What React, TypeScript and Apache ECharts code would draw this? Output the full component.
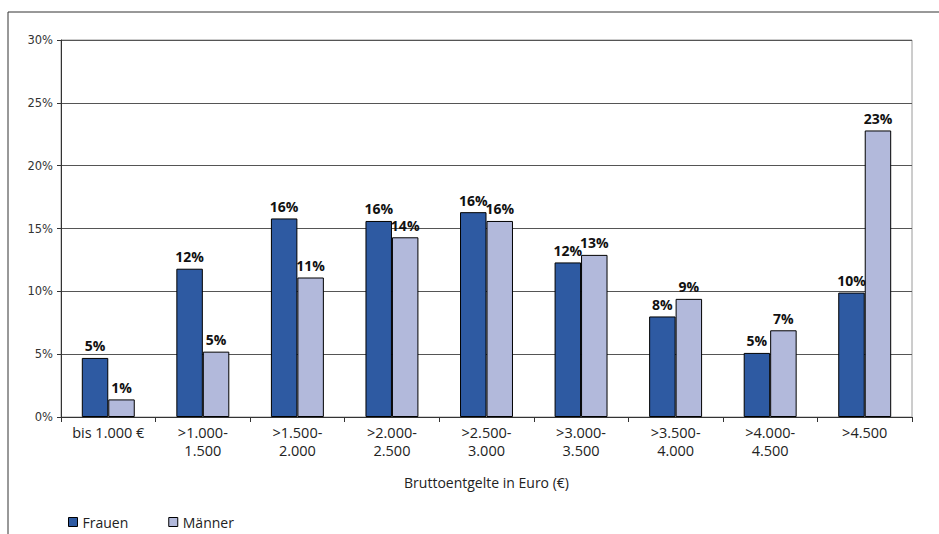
import React, { useEffect, useRef } from "react";
import * as echarts from "echarts";

const categories = [
  "bis 1.000 €",
  ">1.000-\n1.500",
  ">1.500-\n2.000",
  ">2.000-\n2.500",
  ">2.500-\n3.000",
  ">3.000-\n3.500",
  ">3.500-\n4.000",
  ">4.000-\n4.500",
  ">4.500",
];
const frauen = [4.7, 11.8, 15.8, 15.6, 16.3, 12.3, 8.0, 5.1, 9.9];
const maenner = [1.4, 5.2, 11.1, 14.3, 15.6, 12.9, 9.4, 6.9, 22.8];
const yTicks = [0, 5, 10, 15, 20, 25, 30];
const xTitle = "Bruttoentgelte in Euro (€)";
const seriesNames = ["Frauen", "Männer"];

const FONT = "'Open Sans', 'Noto Sans', sans-serif";

export default function App() {
  const ref = useRef<HTMLDivElement>(null);
  useEffect(() => {
    if (!ref.current) return;
    const chart = echarts.init(ref.current, undefined, { renderer: "svg" });
    const label = {
      show: true,
      position: "top" as const,
      distance: 5,
      formatter: (p: any) => Math.round(p.value) + "%",
      fontFamily: FONT,
      fontWeight: "bold" as const,
      fontSize: 14,
      color: "#111",
    };
    chart.setOption({
      animation: false,
      backgroundColor: "#fff",
      grid: {
        left: 61,
        right: 27,
        top: 40,
        bottom: 117,
        show: true,
        borderColor: "#9a9a9a",
        borderWidth: 1,
        backgroundColor: "transparent",
      },
      legend: {
        left: 63,
        top: 510,
        itemWidth: 9,
        itemHeight: 9,
        itemGap: 40,
        icon: "rect",
        textStyle: { fontFamily: FONT, fontSize: 14, color: "#222" },
        itemStyle: { borderColor: "#000", borderWidth: 1 },
        data: seriesNames,
      },
      xAxis: {
        type: "category",
        data: categories,
        name: xTitle,
        nameLocation: "middle",
        nameGap: 58,
        nameTextStyle: { fontFamily: FONT, fontSize: 14, color: "#222" },
        axisLine: { lineStyle: { color: "#333", width: 1 } },
        axisTick: { show: true, length: 5, lineStyle: { color: "#333" } },
        axisLabel: {
          fontFamily: FONT,
          fontSize: 14.5,
          color: "#222",
          lineHeight: 18,
          margin: 6,
          interval: 0,
        },
      },
      yAxis: {
        type: "value",
        min: yTicks[0],
        max: yTicks[yTicks.length - 1],
        interval: 5,
        axisLine: { show: true, lineStyle: { color: "#333", width: 1 } },
        axisTick: { show: true, length: 4, lineStyle: { color: "#333" } },
        axisLabel: {
          fontFamily: "'DejaVu Sans', sans-serif",
          fontSize: 11.5,
          color: "#333",
          margin: 8,
          formatter: (v: number) => v + "%",
        },
        splitLine: { show: true, lineStyle: { color: "#555", width: 1 } },
      },
      series: [
        {
          name: seriesNames[0],
          type: "bar",
          data: frauen,
          barGap: "0%",
          barCategoryGap: "44%",
          itemStyle: { color: "#2E5AA2", borderColor: "#000", borderWidth: 1 },
          label,
        },
        {
          name: seriesNames[1],
          type: "bar",
          data: maenner,
          itemStyle: { color: "#B2B9DB", borderColor: "#000", borderWidth: 1 },
          label,
        },
      ],
      graphic: [
        {
          type: "line",
          shape: { x1: 8, y1: 12, x2: 939, y2: 12 },
          style: { stroke: "#333", lineWidth: 1 },
        },
        {
          type: "line",
          shape: { x1: 8, y1: 12, x2: 8, y2: 534 },
          style: { stroke: "#333", lineWidth: 1 },
        },
      ],
    });
    return () => chart.dispose();
  }, []);
  return (
    <div
      ref={ref}
      style={{ position: "fixed", left: 0, top: 0, width: 939, height: 534 }}
    />
  );
}
